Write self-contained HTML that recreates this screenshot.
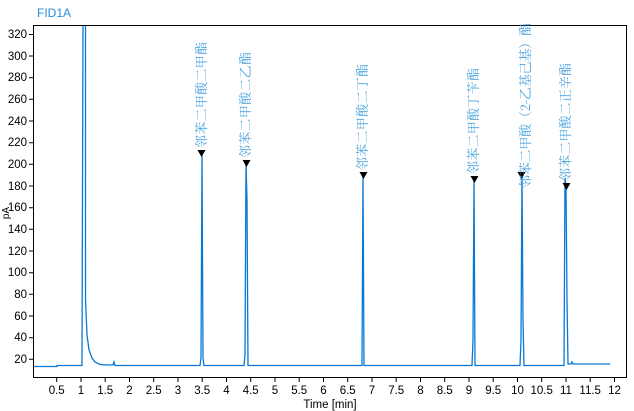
<!DOCTYPE html>
<html><head><meta charset="utf-8"><style>
body{margin:0;background:#fff;}
svg{display:block;font-family:"Liberation Sans","Noto Sans CJK SC",sans-serif;}
</style></head><body>
<svg width="634" height="411" viewBox="0 0 634 411">
<text x="37" y="17" font-size="12" fill="#2a8ad8">FID1A</text>
<rect x="33.5" y="25.5" width="593" height="352" fill="none" stroke="#000" stroke-width="1"/>
<g font-size="11.5" fill="#000" text-anchor="end">
<text x="27" y="38">320</text><text x="27" y="60">300</text><text x="27" y="81">280</text>
<text x="27" y="103">260</text><text x="27" y="125">240</text><text x="27" y="146">220</text>
<text x="27" y="168">200</text><text x="27" y="190">180</text><text x="27" y="211">160</text>
<text x="27" y="233">140</text><text x="27" y="255">120</text><text x="27" y="276">100</text>
<text x="27" y="298">80</text><text x="27" y="320">60</text><text x="27" y="341">40</text>
<text x="27" y="363">20</text>
</g>
<g stroke="#000" stroke-width="1">
<path d="M29 34.5h4M29 56h4M29 77.7h4M29 99.3h4M29 121h4M29 142.7h4M29 164.3h4M29 186h4M29 207.7h4M29 229.3h4M29 251h4M29 272.7h4M29 294.3h4M29 316h4M29 337.7h4M29 359.3h4"/>
<path d="M56.7 378v4M81 378v4M105.2 378v4M129.5 378v4M153.7 378v4M178 378v4M202.2 378v4M226.5 378v4M250.7 378v4M275 378v4M299.2 378v4M323.5 378v4M347.7 378v4M372 378v4M396.2 378v4M420.5 378v4M444.7 378v4M469 378v4M493.2 378v4M517.5 378v4M541.7 378v4M566 378v4M590.2 378v4M614.5 378v4"/>
</g>
<g font-size="11.5" fill="#000" text-anchor="middle">
<text x="56.7" y="394">0.5</text><text x="81" y="394">1</text><text x="105.2" y="394">1.5</text><text x="129.5" y="394">2</text><text x="153.7" y="394">2.5</text><text x="178" y="394">3</text><text x="202.2" y="394">3.5</text><text x="226.5" y="394">4</text><text x="250.7" y="394">4.5</text><text x="275" y="394">5</text><text x="299.2" y="394">5.5</text><text x="323.5" y="394">6</text><text x="347.7" y="394">6.5</text><text x="372" y="394">7</text><text x="396.2" y="394">7.5</text><text x="420.5" y="394">8</text><text x="444.7" y="394">8.5</text><text x="469" y="394">9</text><text x="493.2" y="394">9.5</text><text x="517.5" y="394">10</text><text x="541.7" y="394">10.5</text><text x="566" y="394">11</text><text x="590.2" y="394">11.5</text><text x="614.5" y="394">12</text>
<text x="330" y="408" font-size="11.5">Time [min]</text>
</g>
<text x="9" y="213" font-size="10" transform="rotate(-90 9 213)" text-anchor="middle">pA</text>
<g fill="none" stroke="#0a78d2" stroke-width="1.3">
<path d="M34 366.5H57V365.5H82V358L83 26M85.5 26V300L87 335L89 350L92 358L95 362L100 364.5L108 365H113L114 362L115 365.5H200L201 358L202 154L203 358L204 365.5H244L245 355L246 164L247 200L248 365.5H362L363 175L364 365.5H472L473 340L474 179L475 365.5H520L521 340L522 176L523 320L524 365.5H564L565 178L566 186L567 300L568 364H571L572 362L573 364H610"/>
</g>
<g fill="#000">
<path d="M197.5 150h8l-4 7z"/><path d="M242.5 160h8l-4 7z"/><path d="M359.5 172h8l-4 7z"/><path d="M470.5 176h8l-4 7z"/><path d="M517.5 172h8l-4 7z"/><path d="M562.5 183h8l-4 7z"/>
</g>
<g font-size="13" fill="#4aa3df" font-family="'Noto Serif CJK SC','Liberation Serif',serif">
<text transform="translate(206 148) rotate(-90)" textLength="106">邻苯二甲酸二甲酯</text>
<text transform="translate(250 158) rotate(-90)" textLength="106">邻苯二甲酸二乙酯</text>
<text transform="translate(367 170) rotate(-90)" textLength="106">邻苯二甲酸二丁酯</text>
<text transform="translate(478 174) rotate(-90)" textLength="106">邻苯二甲酸丁苄酯</text>
<text transform="translate(530 188) rotate(-90)" textLength="165">邻苯二甲酸（2-乙基己基）酯</text>
<text transform="translate(570 181) rotate(-90)" textLength="118">邻苯二甲酸二正辛酯</text>
</g>
</svg>
</body></html>
